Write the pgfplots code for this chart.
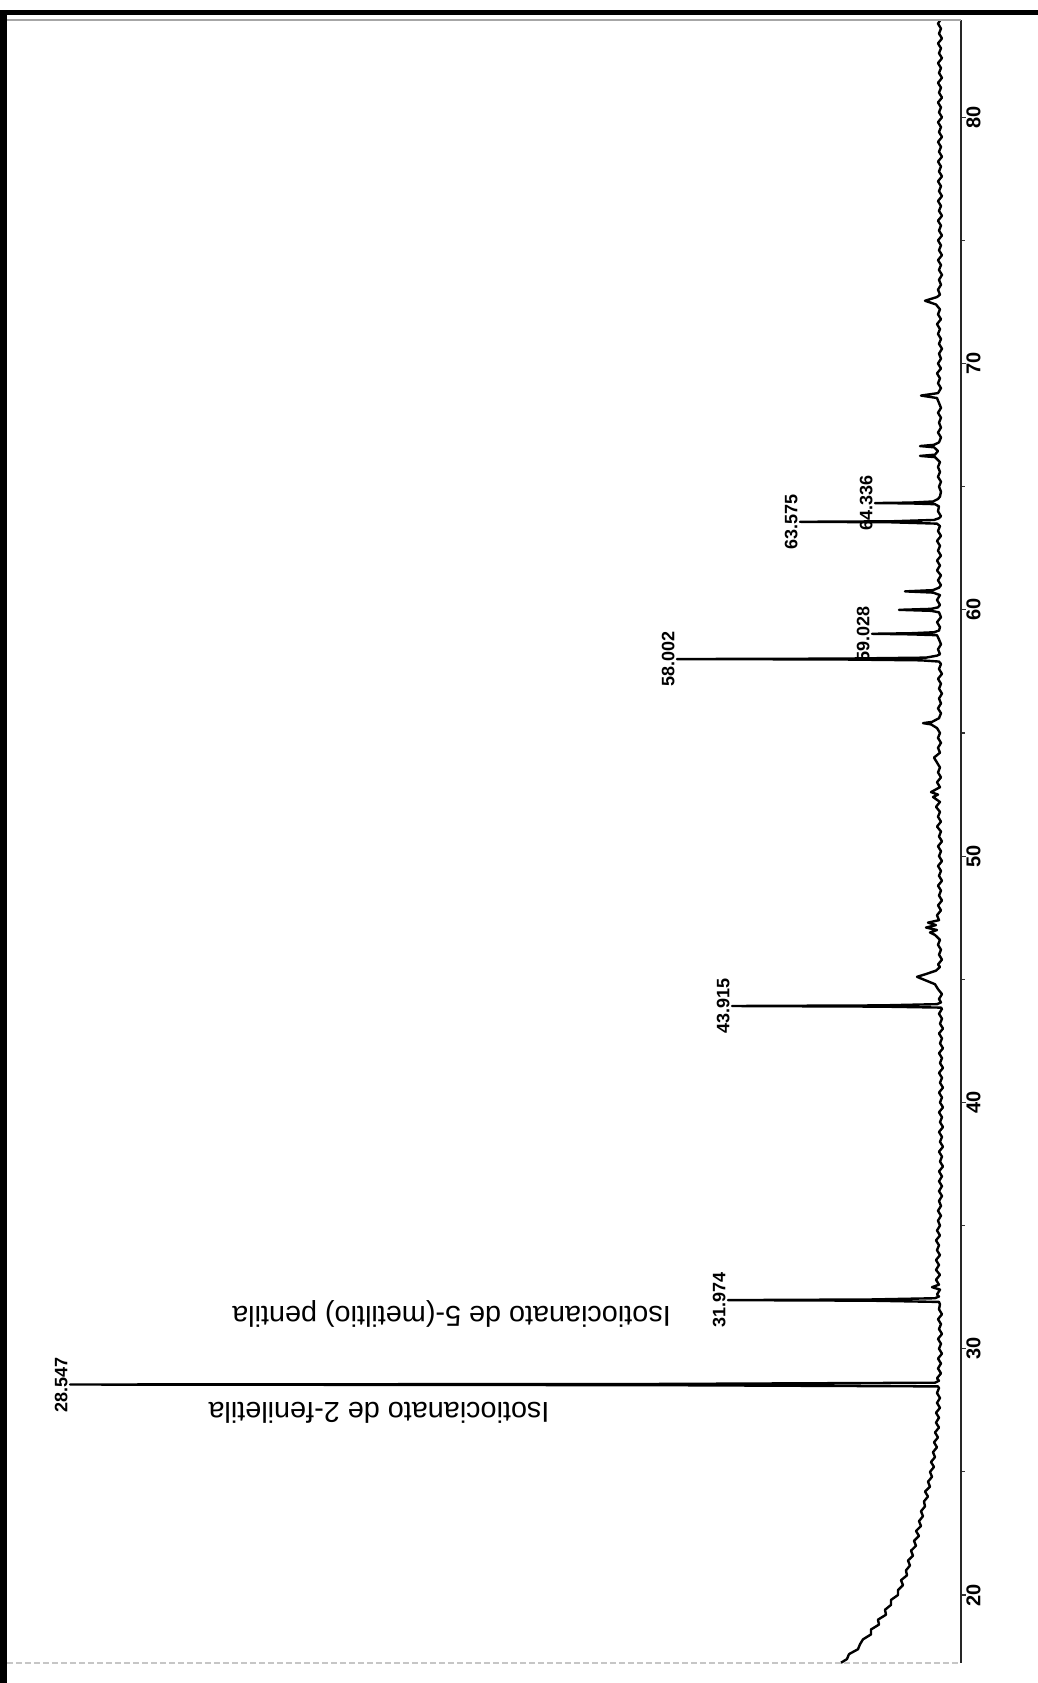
\documentclass[border=0pt]{standalone}
\usepackage{fontspec}
\setmainfont{Liberation Sans}
\usepackage{pgfplots}
\pgfplotsset{compat=1.18}
\usepackage{pgfplotstable}

\pgfplotstableread{
t I
17.25 120
17.4 114
17.6 112
17.8 103
18.0 101
18.2 98
18.4 90
18.6 90
18.8 82
19.0 83
19.2 75
19.4 76
19.6 70
19.8 70
20.0 63
20.2 63
20.4 58
20.6 60
20.8 54
21.0 55
21.2 51
21.4 53
21.6 48
21.8 50
22.0 45
22.2 47
22.4 42
22.6 45
22.8 40
23.0 42
23.2 38
23.4 40
23.6 36
23.8 37
24.0 33
24.2 36
24.4 31
24.6 33
24.8 29
25.0 31
25.2 27
25.4 30
25.6 26
25.8 28
26.0 24
26.2 27
26.4 23
26.6 26
26.8 22
27.0 25
27.2 22
27.4 25
27.6 21
27.8 24
28.0 21
28.2 24
28.4 22
28.47 23
28.52 300
28.547 891
28.57 300
28.62 26
28.7 22
28.8 24
29.0 20
29.2 23
29.4 20
29.6 23
29.8 19
30.0 22
30.2 20
30.4 23
30.6 19
30.8 22
31.0 20
31.2 23
31.4 19
31.6 22
31.8 21
31.9 22
31.95 90
31.974 233
32.0 90
32.05 26
32.12 22
32.2 24
32.4 21
32.5 29
32.6 22
32.8 25
33.0 21
33.2 25
33.4 22
33.6 25
33.8 21
34.0 24
34.2 22
34.4 25
34.6 21
34.8 24
35.0 21
35.2 23
35.4 20
35.6 23
35.8 20
36.0 22
36.2 19
36.4 22
36.6 19
36.8 22
37.0 19
37.2 22
37.4 18
37.6 21
37.8 19
38.0 22
38.2 18
38.4 21
38.6 19
38.8 22
39.0 18
39.2 21
39.4 19
39.6 22
39.8 18
40.0 21
40.2 19
40.4 22
40.6 18
40.8 21
41.0 19
41.2 22
41.4 18
41.6 21
41.8 19
42.0 22
42.2 18
42.4 21
42.6 19
42.8 22
43.0 18
43.2 21
43.4 19
43.6 22
43.8 19
43.85 20
43.89 80
43.915 229
43.94 80
43.99 24
44.06 20
44.2 22
44.4 19
44.6 23
44.8 26
45.0 38
45.1 44
45.2 36
45.35 25
45.5 21
45.6 23
45.8 19
46.0 22
46.2 20
46.4 23
46.6 21
46.8 26
46.9 31
47.0 24
47.1 35
47.2 25
47.3 33
47.4 22
47.6 24
47.8 20
48.0 23
48.2 19
48.4 22
48.6 20
48.8 23
49.0 19
49.2 22
49.4 20
49.6 23
49.8 19
50.0 22
50.2 20
50.4 23
50.6 19
50.8 22
51.0 20
51.2 24
51.4 20
51.6 23
51.8 21
52.0 25
52.2 21
52.4 28
52.5 23
52.6 30
52.8 21
53.0 24
53.2 20
53.4 23
53.6 21
53.8 24
54.0 27
54.2 21
54.4 23
54.6 20
54.8 23
55.0 21
55.2 24
55.35 30
55.4 38
55.45 29
55.6 22
55.8 20
56.0 23
56.2 20
56.4 22
56.6 19
56.8 22
57.0 20
57.2 23
57.4 19
57.6 22
57.8 20
57.9 22
57.95 40
57.985 120
58.002 284
58.02 120
58.06 35
58.14 24
58.2 21
58.4 23
58.6 20
58.8 22
58.97 24
59.005 50
59.028 89
59.05 50
59.09 27
59.16 22
59.3 21
59.5 24
59.7 20
59.9 22
59.96 30
60.0 62
60.04 30
60.1 23
60.2 21
60.4 24
60.6 21
60.7 28
60.75 56
60.8 28
60.9 22
61.0 20
61.2 23
61.4 20
61.6 24
61.8 21
62.0 24
62.2 20
62.4 23
62.6 21
62.8 24
63.0 20
63.2 23
63.4 21
63.5 24
63.555 70
63.575 161
63.595 70
63.65 27
63.72 22
63.8 20
64.0 23
64.2 22
64.29 26
64.32 50
64.336 86
64.355 50
64.4 28
64.5 23
64.6 21
64.8 20
65.0 22
65.2 20
65.4 23
65.6 21
65.8 23
66.0 21
66.2 26
66.25 41
66.3 26
66.45 23
66.6 27
66.65 41
66.7 27
66.8 22
67.0 20
67.2 23
67.4 20
67.6 22
67.8 20
68.0 23
68.2 20
68.4 22
68.6 24
68.7 40
68.8 23
69.0 20
69.2 23
69.4 21
69.6 24
69.8 20
70.0 23
70.2 20
70.4 22
70.6 19
70.8 22
71.0 20
71.2 23
71.4 21
71.6 24
71.8 20
72.0 23
72.2 21
72.4 25
72.55 36
72.7 24
72.8 21
73.0 23
73.2 20
73.4 22
73.6 19
73.8 22
74.0 20
74.2 23
74.4 19
74.6 22
74.8 20
75.0 23
75.2 19
75.4 22
75.6 20
75.8 23
76.0 19
76.2 22
76.4 20
76.6 23
76.8 19
77.0 22
77.2 20
77.4 23
77.6 19
77.8 22
78.0 20
78.2 23
78.4 19
78.6 22
78.8 20
79.0 23
79.2 19
79.4 22
79.6 20
79.8 23
80.0 19
80.2 22
80.4 20
80.6 23
80.8 19
81.0 22
81.2 20
81.4 23
81.6 19
81.8 22
82.0 20
82.2 23
82.4 19
82.6 22
82.8 20
83.0 23
83.2 19
83.4 22
83.6 20
83.8 23
83.93 21
}\trace

\begin{document}
\begin{tikzpicture}
\begin{axis}[
  scale only axis, width=477pt, height=821.5pt,
  at={(0pt,0pt)}, anchor=south west,
  x dir=reverse, xmin=0, xmax=954, ymin=17.24, ymax=83.95,
  axis x line=none, axis y line*=right,
  y axis line style={line width=0.7pt, black!85},
  ytick={20,30,...,80}, minor ytick={25,35,...,75},
  tick align=outside, major tick length=2.5pt, minor tick length=2pt,
  tick style={black!80, line width=0.6pt},
  yticklabel style={rotate=90, anchor=north, inner sep=0pt, font=\fontsize{10}{11}\selectfont\bfseries},
  /pgf/number format/assume math mode=true,
  clip=false,
]
\addplot[black, line width=1.2pt, line join=round] table[x=I, y=t] {\trace};
\draw[gray!70, line width=0.6pt] (rel axis cs:0,1) -- (rel axis cs:1,1);
\draw[gray!45, line width=0.6pt, dash pattern=on 3pt off 1.5pt] (rel axis cs:0,0) -- (rel axis cs:1,0);
\begin{scope}[every node/.style={rotate=90, anchor=south, inner sep=1pt, font=\fontsize{9}{10}\selectfont\bfseries}]
\node at (axis cs:891,28.547) {28.547};
\node at (axis cs:233,31.974) {31.974};
\node at (axis cs:229,43.915) {43.915};
\node at (axis cs:284,58.002) {58.002};
\node at (axis cs:89,59.028) {59.028};
\node at (axis cs:161,63.575) {63.575};
\node at (axis cs:86,64.336) {64.336};
\end{scope}
\node[rotate=180, inner sep=0pt, font=\fontsize{14.4}{16}\selectfont] at (axis cs:582,27.38) {Isotiocianato de 2-feniletila};
\node[rotate=180, inner sep=0pt, font=\fontsize{14.4}{16}\selectfont] at (axis cs:509.5,31.42) {Isotiocianato de 5-(metiltio) pentila};
\end{axis}
\draw[line width=2.5pt] (-3.5pt,825.25pt) -- (515.5pt,825.25pt);
\draw[line width=3.3pt] (-1.85pt,-10pt) -- (-1.85pt,826.5pt);
\pgfresetboundingbox
\path[use as bounding box] (-3.5pt,-10pt) rectangle (515.5pt,831.5pt);
\end{tikzpicture}
\end{document}
